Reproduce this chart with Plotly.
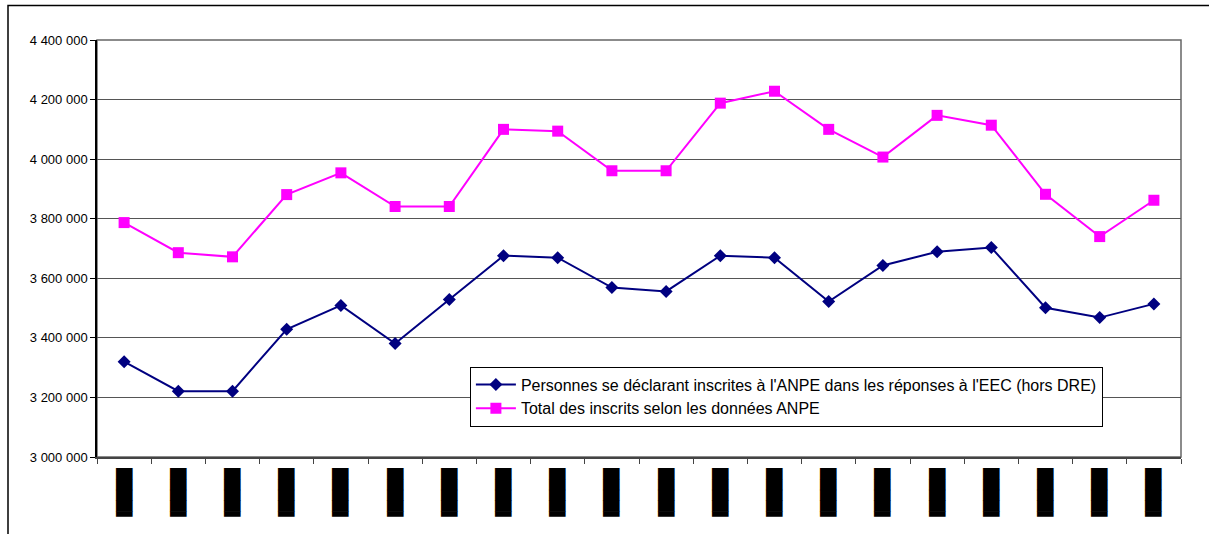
import plotly.graph_objects as go

# Periods (x categories) and the two monthly series
periods = [f"P{i:02d}" for i in range(1, 21)]
period_labels = ["▐████"] * 20

eec_declared = [3320000, 3221000, 3221000, 3429000, 3509000, 3381000, 3529000,
                3676000, 3669000, 3569000, 3556000, 3676000, 3669000, 3522000,
                3643000, 3689000, 3703000, 3501000, 3468000, 3514000]
anpe_total = [3787000, 3686000, 3672000, 3881000, 3954000, 3841000, 3841000,
              4100000, 4094000, 3961000, 3961000, 4188000, 4228000, 4100000,
              4007000, 4147000, 4114000, 3882000, 3740000, 3862000]

series_names = [
    "Personnes se déclarant inscrites à l'ANPE dans les réponses à l'EEC (hors DRE)",
    "Total des inscrits selon les données ANPE",
]

y_ticks = [3000000, 3200000, 3400000, 3600000, 3800000, 4000000, 4200000, 4400000]

fig = go.Figure()
fig.add_trace(go.Scatter(
    x=periods, y=eec_declared, name=series_names[0], mode="lines+markers",
    line=dict(color="#000080", width=2),
    marker=dict(symbol="diamond", size=10, color="#000080"),
))
fig.add_trace(go.Scatter(
    x=periods, y=anpe_total, name=series_names[1], mode="lines+markers",
    line=dict(color="#FF00FF", width=2),
    marker=dict(symbol="square", size=11, color="#FF00FF"),
))

# chart-area frame (runs off the page on the right and bottom)
fig.add_shape(type="rect", xref="paper", yref="paper",
              x0=-0.0821, x1=1.5, y0=-0.5, y1=1.0825,
              line=dict(color="#000000", width=1.5), layer="below")
# plot-area frame
fig.add_shape(type="rect", xref="paper", yref="paper",
              x0=0, x1=1, y0=0, y1=1,
              line=dict(color="#666666", width=1.5), layer="below")

fig.update_layout(
    width=1209, height=534,
    margin=dict(l=97, r=28, t=40, b=77, autoexpand=False),
    paper_bgcolor="white", plot_bgcolor="white",
    separators=", ",
    font=dict(family="Liberation Sans, Arial, sans-serif", color="black", size=13),
    showlegend=True,
    legend=dict(
        x=0.344, y=0.217, xanchor="left", yanchor="top",
        bgcolor="white", bordercolor="black", borderwidth=1,
        font=dict(size=16, family="Liberation Sans, Arial, sans-serif"),
        tracegroupgap=0, itemwidth=40,
    ),
    xaxis=dict(
        type="category", categoryorder="array", categoryarray=periods,
        range=[-0.5, 19.5], automargin=False,
        tickmode="array", tickvals=periods, ticktext=period_labels,
        tickson="boundaries", ticks="outside", ticklen=5, tickcolor="#444444",
        tickangle=-90, ticklabelstandoff=4,
        tickfont=dict(family="DejaVu Sans", size=14, color="black"),
        showgrid=False, showline=True, linecolor="#444444", linewidth=1.5,
        zeroline=False,
    ),
    yaxis=dict(
        range=[3000000, 4400000], tickvals=y_ticks, tickformat=",d",
        automargin=False,
        ticks="outside", ticklen=5, tickcolor="black",
        showgrid=True, gridcolor="#555555", gridwidth=1,
        showline=True, linecolor="black", linewidth=1.5,
        zeroline=False,
        tickfont=dict(size=13),
    ),
)

fig.write_html("out.html")
